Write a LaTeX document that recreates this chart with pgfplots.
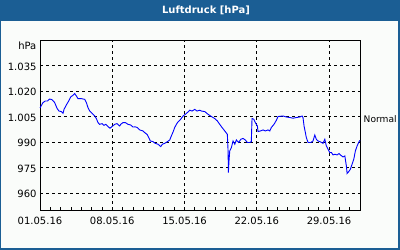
\documentclass[border=0pt]{standalone}
\usepackage{pgfplots}
\pgfplotsset{compat=1.18}
\usepackage{fontspec}
\setmainfont{DejaVu Sans}
\definecolor{titleblue}{HTML}{1B5E94}
\definecolor{bgc}{HTML}{FAFCFA}
\begin{document}
\begin{tikzpicture}[x=1bp,y=1bp]
\useasboundingbox (0,0) rectangle (400,250);
\fill[titleblue] (0,0) rectangle (400,250);
\fill[bgc] (1,2) rectangle (398,229.3);
\node[text=white, font=\fontsize{10bp}{12bp}\selectfont\bfseries] at (206,240) {Luftdruck [hPa]};
\begin{axis}[
  at={(40bp,40bp)}, anchor=south west,
  scale only axis, width=320bp, height=170bp,
  xmin=0, xmax=31, ymin=950, ymax=1050,
  axis line style={black, line width=0.9bp},
  xtick={0,7,14,21,28},
  xticklabels={01.05.16,08.05.16,15.05.16,22.05.16,29.05.16},
  minor xtick={1,...,30},
  ytick={960,975,990,1005,1020,1035},
  yticklabels={960,975,990,1.005,1.020,1.035},
  xtick pos=bottom, ytick pos=left,
  tick align=inside,
  major tick length=3bp, minor tick length=3bp,
  every tick/.style={black, line width=0.8bp},
  ytick style={draw=none},
  grid=major,
  major grid style={black, line width=0.8bp, dash pattern=on 3bp off 3bp},
  tick label style={font=\fontsize{10bp}{12bp}\selectfont},
  xticklabel style={yshift=-4bp},
  yticklabel style={yshift=-1bp},
  clip=false,
]
\addplot[blue, line width=0.9bp, no marks, sharp plot] coordinates {
(0.00,1010.0) (0.07,1010.8) (0.29,1013.2) (0.51,1014.1) (0.71,1014.1) (0.94,1015.3)
(1.16,1014.9) (1.42,1013.2) (1.65,1009.8) (1.84,1008.2) (2.06,1007.9) (2.23,1006.9)
(2.33,1009.2) (2.55,1011.8) (2.78,1014.1) (2.97,1016.5) (3.20,1017.5) (3.36,1018.5)
(3.52,1017.1) (3.68,1015.5) (4.00,1015.5) (4.33,1015.1) (4.49,1013.2) (4.65,1010.2)
(4.82,1008.2) (5.07,1006.7) (5.30,1005.3) (5.46,1003.8) (5.62,1001.4) (5.78,1000.4)
(6.01,1000.8) (6.20,999.8) (6.37,1000.4) (6.59,999.1) (6.78,998.1) (6.98,999.1)
(7.24,1000.4) (7.46,1000.8) (7.72,999.4) (7.82,1000.4) (8.04,1001.4) (8.27,1001.4)
(8.53,1000.4) (8.79,1000.0) (9.01,998.8) (9.23,998.9) (9.43,998.5) (9.66,997.1)
(9.98,996.5) (10.15,995.5) (10.37,994.5) (10.53,992.6) (10.69,990.6) (10.95,990.2)
(11.17,989.2) (11.43,988.7) (11.70,987.3) (11.85,988.7) (12.08,989.2) (12.34,990.2)
(12.57,991.2) (12.72,993.5) (12.89,995.9) (13.05,998.5) (13.21,1000.4) (13.37,1001.8)
(13.63,1003.4) (13.86,1005.3) (14.08,1006.3) (14.27,1007.3) (14.51,1008.7) (14.73,1008.2)
(14.99,1009.2) (15.21,1008.2) (15.48,1008.7) (15.63,1008.2) (15.96,1007.9) (16.28,1006.3)
(16.60,1005.0) (16.93,1003.8) (17.18,1002.4) (17.41,1000.4) (17.64,998.5) (17.90,996.5)
(18.15,994.5) (18.22,984.7) (18.25,972.0) (18.31,978.8) (18.38,984.7) (18.54,986.7)
(18.70,990.6) (18.87,988.7) (19.02,991.2) (19.25,989.7) (19.45,991.6) (19.67,992.1)
(19.89,991.2) (20.09,989.7) (20.32,989.7) (20.47,990.2) (20.54,1003.8) (20.71,1003.4)
(20.86,1001.4) (21.06,999.4) (21.12,996.1) (21.35,996.5) (21.61,997.1) (21.83,996.5)
(22.09,997.1) (22.26,996.5) (22.41,998.5) (22.67,1000.4) (22.90,1002.8) (23.06,1005.0)
(23.55,1005.3) (23.87,1004.7) (24.20,1004.4) (24.52,1004.0) (24.84,1004.4) (25.16,1004.7)
(25.39,1005.3) (25.48,1004.4) (25.58,999.4) (25.71,995.5) (25.80,992.6) (25.97,989.7)
(26.23,989.7) (26.45,990.6) (26.62,994.1) (26.77,991.6) (26.94,990.6) (27.20,990.0)
(27.42,989.2) (27.59,991.6) (27.74,987.7) (27.91,985.7) (28.07,983.8) (28.23,983.8)
(28.39,982.4) (28.56,982.8) (28.78,982.4) (28.97,983.2) (29.14,982.2) (29.36,981.2)
(29.53,981.8) (29.68,975.9) (29.75,971.5) (29.91,972.6) (30.07,974.0) (30.23,976.9)
(30.40,979.9) (30.55,984.7) (30.72,987.7) (30.91,990.2) (31.00,991.0)
};
\node[anchor=west, inner sep=0pt, font=\fontsize{9.1bp}{11bp}\selectfont, yshift=-2.5bp, xshift=3.5bp] at (axis cs:31,1005) {Normal};
\node[anchor=north east, inner sep=0pt, font=\fontsize{10bp}{12bp}\selectfont, xshift=-3.5bp, yshift=-1.5bp] at (axis cs:0,1050) {hPa};
\end{axis}
\end{tikzpicture}
\end{document}
